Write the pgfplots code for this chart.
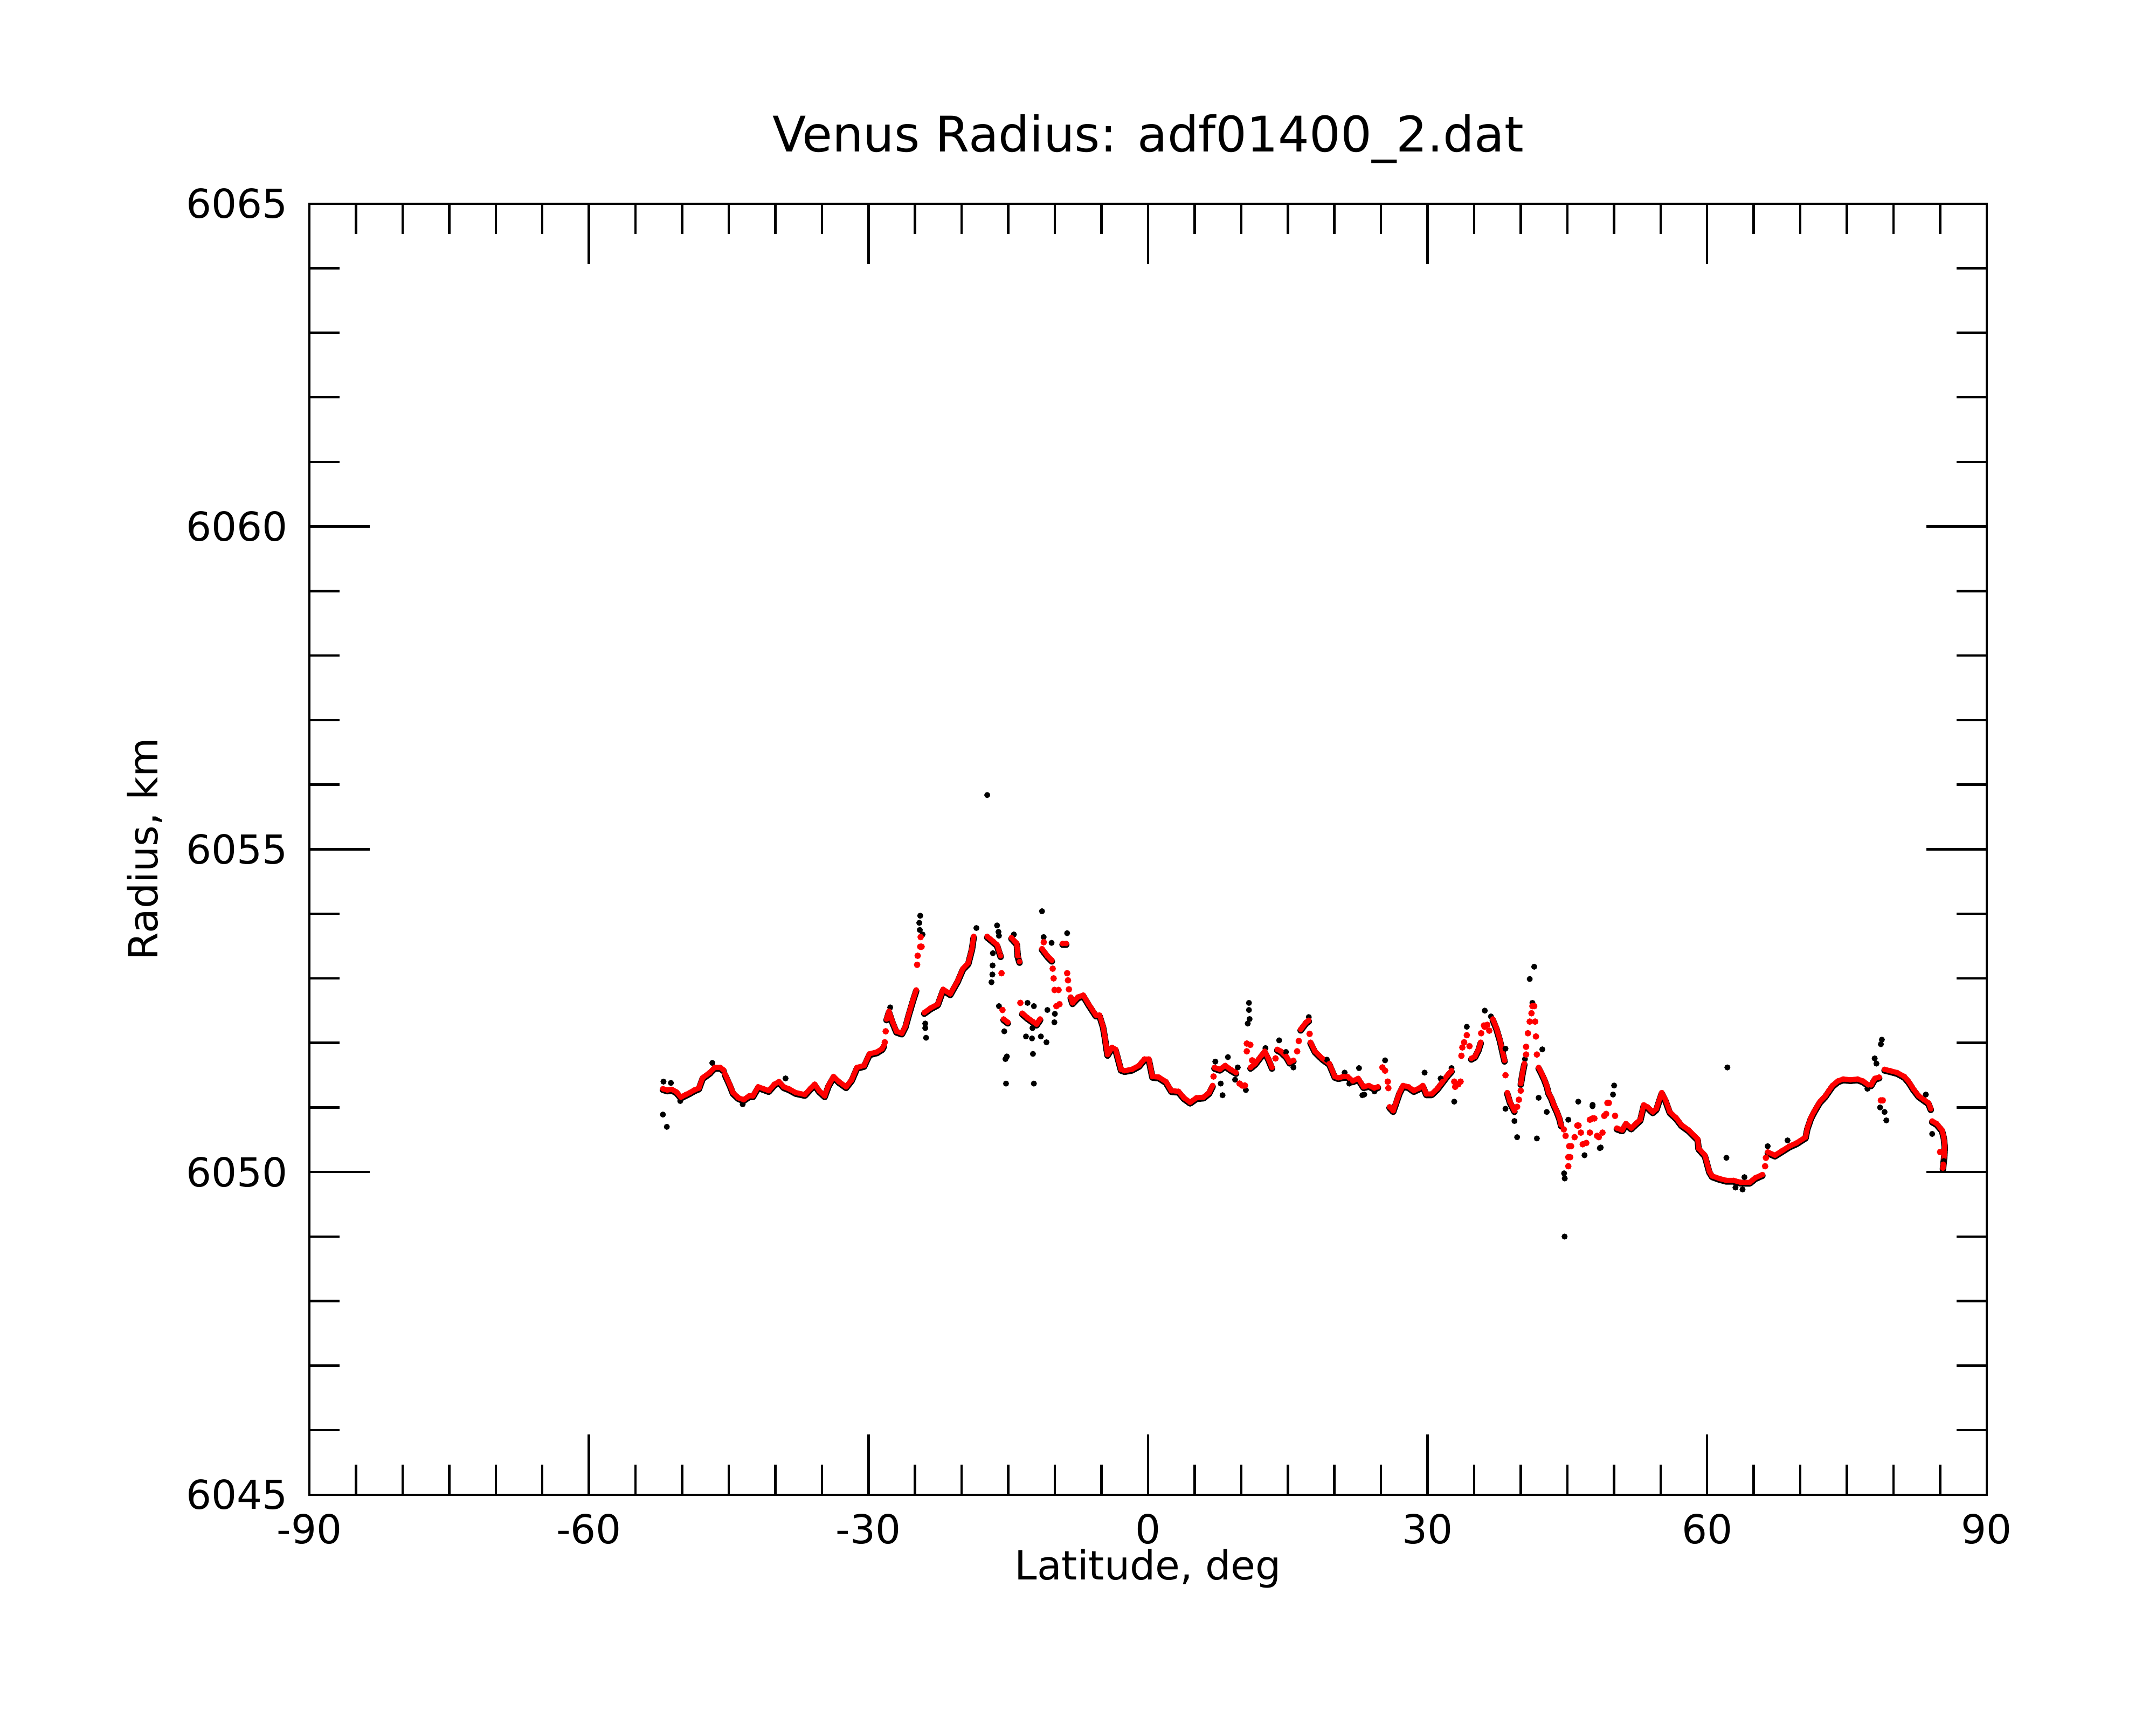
\documentclass[border=0pt]{standalone}
\usepackage{fontspec}
\setmainfont{DejaVu Sans}
\usepackage{pgfplots}
\pgfplotsset{compat=1.18}
\usepackage{pgfplotstable}

\pgfplotstableread{
lat r
-52.06 6051.29
-51.6 6051.27
-51.1 6051.28
-50.6 6051.24
-50.13 6051.16
-49.6 6051.20
-49.17 6051.23
-48.7 6051.27
-48.2 6051.30
-47.8 6051.46
-47.05 6051.54
-46.5 6051.62
-45.9 6051.62
-45.55 6051.58
nan nan
-45.4 6051.52
-44.93 6051.37
-44.54 6051.23
-43.96 6051.15
-43.4 6051.12
-42.8 6051.18
-42.4 6051.18
-41.84 6051.32
-41.26 6051.29
-40.7 6051.26
-40.1 6051.36
-39.6 6051.40
-39.1 6051.32
-38.56 6051.29
-37.8 6051.23
-36.83 6051.20
-36.25 6051.29
-35.77 6051.36
-35.3 6051.26
-34.7 6051.18
-34.3 6051.34
-33.75 6051.48
-33.17 6051.40
-32.4 6051.32
-31.8 6051.43
-31.24 6051.62
-30.47 6051.65
-29.9 6051.83
-29.1 6051.86
-28.54 6051.91
-28.35 6051.96
nan nan
-28.06 6052.37
-27.8 6052.49
-27.4 6052.32
-27.0 6052.18
-26.42 6052.15
-26.03 6052.26
-25.65 6052.46
-25.26 6052.65
-24.88 6052.82
nan nan
-24.01 6052.47
-23.34 6052.54
-22.57 6052.60
-21.99 6052.83
-21.22 6052.76
-20.44 6052.96
-19.87 6053.15
-19.29 6053.24
-18.9 6053.46
-18.71 6053.65
nan nan
-17.26 6053.65
-16.59 6053.57
-16.2 6053.52
-15.82 6053.35
nan nan
-14.66 6053.63
-14.08 6053.54
-13.98 6053.35
-13.79 6053.26
nan nan
-15.5 6052.37
-15.05 6052.32
nan nan
-13.5 6052.46
-12.93 6052.39
-12.35 6052.33
-11.96 6052.29
-11.58 6052.37
nan nan
-11.38 6053.46
-10.8 6053.35
-10.32 6053.28
nan nan
-9.17 6053.54
-8.78 6053.54
nan nan
-8.3 6052.71
-8.1 6052.62
-7.53 6052.71
-6.95 6052.74
-6.37 6052.60
-5.6 6052.43
-5.2 6052.43
-4.83 6052.26
-4.64 6052.10
-4.35 6051.82
-3.86 6051.93
-3.48 6051.90
-2.9 6051.59
-2.51 6051.57
-1.74 6051.59
-0.97 6051.65
-0.39 6051.75
0.09 6051.75
0.47 6051.48
1.15 6051.47
1.92 6051.40
2.5 6051.26
3.27 6051.25
3.85 6051.15
4.52 6051.08
5.2 6051.15
5.97 6051.16
6.55 6051.23
6.93 6051.34
nan nan
7.13 6051.62
7.7 6051.59
8.28 6051.65
8.86 6051.59
9.44 6051.54
nan nan
11.0 6051.62
11.5 6051.68
12.14 6051.80
12.52 6051.87
12.9 6051.76
13.3 6051.62
nan nan
13.87 6051.90
14.26 6051.87
14.84 6051.79
15.2 6051.70
15.6 6051.73
nan nan
16.38 6052.21
16.96 6052.32
17.25 6052.35
nan nan
17.44 6052.01
17.92 6051.87
18.7 6051.76
19.46 6051.68
20.04 6051.48
20.43 6051.46
21.0 6051.48
21.39 6051.48
21.97 6051.41
22.55 6051.45
23.13 6051.32
23.7 6051.34
24.28 6051.30
24.67 6051.32
nan nan
25.92 6051.01
26.31 6050.95
26.6 6051.07
26.98 6051.23
27.37 6051.34
27.95 6051.32
28.52 6051.26
29.1 6051.30
29.49 6051.34
29.87 6051.21
30.45 6051.21
31.03 6051.29
31.61 6051.40
32.19 6051.51
32.57 6051.57
nan nan
34.69 6051.76
35.08 6051.79
35.46 6051.90
35.7 6052.01
nan nan
37.0 6052.37
37.39 6052.23
37.78 6052.04
38.16 6051.79
38.26 6051.73
nan nan
38.55 6051.23
38.84 6051.09
39.32 6050.95
nan nan
40.0 6051.37
40.19 6051.54
40.38 6051.68
nan nan
41.92 6051.62
42.21 6051.54
42.5 6051.45
42.79 6051.34
42.98 6051.23
43.27 6051.15
43.56 6051.04
43.85 6050.95
44.14 6050.84
44.33 6050.73
nan nan
50.31 6050.68
50.89 6050.65
51.28 6050.75
51.85 6050.68
52.43 6050.76
52.82 6050.81
53.2 6051.04
53.59 6051.01
54.17 6050.93
54.55 6050.98
55.13 6051.23
55.52 6051.12
56.0 6050.93
56.67 6050.84
57.25 6050.73
58.02 6050.65
58.99 6050.51
59.08 6050.37
59.76 6050.26
60.24 6050.01
60.53 6049.94
61.3 6049.90
62.07 6049.87
62.84 6049.87
63.61 6049.84
64.58 6049.84
65.16 6049.91
65.93 6049.96
nan nan
66.51 6050.31
67.28 6050.26
68.05 6050.33
68.82 6050.40
69.59 6050.45
70.56 6050.54
70.75 6050.68
71.13 6050.84
71.52 6050.95
72.1 6051.09
72.68 6051.18
73.06 6051.26
73.45 6051.34
74.03 6051.41
74.6 6051.44
75.38 6051.43
76.15 6051.44
76.72 6051.41
77.3 6051.35
77.6 6051.35
78.0 6051.45
78.46 6051.47
nan nan
79.04 6051.59
79.62 6051.57
80.39 6051.54
81.16 6051.48
81.64 6051.40
82.12 6051.29
82.7 6051.18
83.28 6051.12
83.76 6051.07
84.0 6050.98
nan nan
84.15 6050.79
84.63 6050.75
85.21 6050.65
85.4 6050.54
85.5 6050.40
85.45 6050.26
85.35 6050.12
85.3 6050.06
}\redline

\pgfplotstableread{
lat r
-28.25 6052.01
-28.15 6052.18
-24.78 6053.21
-24.72 6053.35
-24.45 6053.49
-24.3 6053.49
-24.4 6053.64
-15.72 6053.08
-15.62 6052.51
-13.7 6052.62
-11.19 6053.56
-10.23 6053.15
-10.13 6053.00
-10.03 6052.82
-9.6 6052.82
-9.84 6052.57
-9.5 6052.60
-8.68 6053.08
-8.59 6052.97
-8.49 6052.83
7.03 6051.48
9.82 6051.37
10.1 6051.34
10.4 6051.34
10.6 6051.99
10.98 6051.97
10.6 6051.87
11.17 6051.73
13.68 6051.76
16.0 6051.87
16.18 6052.03
17.34 6052.14
25.15 6051.62
25.44 6051.57
25.73 6051.40
25.79 6051.30
32.86 6051.40
32.96 6051.32
33.3 6051.36
33.54 6051.40
33.63 6051.80
33.73 6051.93
33.92 6052.01
34.21 6052.12
34.5 6051.95
35.75 6052.15
36.05 6052.27
36.14 6052.25
36.4 6052.28
36.62 6052.19
38.36 6051.50
39.61 6051.01
39.8 6051.12
40.0 6051.26
40.57 6051.82
40.57 6051.94
40.77 6052.15
40.96 6052.33
41.15 6052.46
41.25 6052.57
41.44 6052.57
41.54 6052.33
41.63 6052.10
41.73 6051.82
44.62 6050.66
44.81 6050.56
45.2 6050.40
45.4 6050.40
45.1 6050.23
45.3 6050.23
45.1 6050.09
45.78 6050.54
46.07 6050.72
46.2 6050.72
46.45 6050.61
46.65 6050.43
47.03 6050.45
47.42 6050.61
47.42 6050.81
47.7 6050.83
47.9 6050.83
48.19 6050.56
48.38 6050.54
48.77 6050.61
48.96 6050.87
49.16 6050.90
49.3 6051.07
49.45 6051.07
50.12 6050.87
66.22 6050.09
66.31 6050.22
78.65 6051.11
78.85 6051.11
85.0 6050.31
}\reddots

\pgfplotstableread{
lat r
-52.06 6050.89
-51.64 6050.70
-52.0 6051.40
-51.2 6051.38
-50.2 6051.10
-46.76 6051.69
-43.5 6051.05
-38.9 6051.45
-27.67 6052.55
-24.49 6053.75
-24.55 6053.86
-24.45 6053.97
-24.2 6053.68
-23.91 6052.30
-23.91 6052.23
-23.82 6052.08
-18.42 6053.78
-17.26 6055.84
-16.2 6053.82
-16.05 6053.72
-16.65 6053.39
-16.68 6053.20
-16.7 6053.06
-16.8 6052.94
-16.0 6053.66
-15.8 6053.35
-16.0 6052.57
-15.43 6052.18
-15.15 6051.79
-15.3 6051.75
-15.24 6051.37
-14.4 6053.68
-13.9 6053.28
-12.93 6052.62
-12.25 6052.57
-13.1 6052.10
-12.45 6052.07
-11.5 6052.10
-10.9 6052.01
-12.35 6051.83
-12.25 6051.37
-10.8 6052.51
-11.38 6054.04
-11.2 6053.64
-10.35 6053.55
-10.05 6052.32
-10.0 6052.45
-8.68 6053.70
-12.4 6052.23
7.22 6051.71
7.8 6051.37
8.0 6051.19
8.57 6051.78
9.34 6051.43
9.63 6051.62
10.5 6051.27
10.7 6052.30
10.83 6052.62
10.83 6052.51
10.9 6052.37
12.6 6051.92
14.07 6052.04
14.8 6051.86
15.6 6051.62
17.25 6052.40
19.2 6051.74
21.1 6051.54
21.6 6051.37
22.64 6051.61
23.0 6051.19
23.2 6051.20
24.3 6051.25
25.44 6051.73
29.68 6051.54
31.4 6051.45
32.57 6051.61
32.86 6051.09
34.21 6052.25
36.14 6052.50
36.8 6052.41
38.36 6051.91
38.36 6050.98
39.32 6050.79
39.61 6050.54
40.45 6051.75
40.96 6052.99
41.44 6053.18
41.25 6052.62
41.73 6050.52
41.92 6051.15
42.31 6051.90
42.79 6050.93
44.65 6049.98
44.72 6049.90
44.70 6049.00
45.1 6050.81
46.17 6051.09
46.84 6050.26
47.71 6051.04
48.48 6050.37
47.7 6051.02
48.58 6050.38
49.9 6051.20
50.02 6051.34
62.17 6051.62
62.07 6050.22
63.04 6049.76
63.8 6049.73
64.0 6049.92
66.5 6050.40
68.63 6050.49
77.2 6051.29
77.98 6051.76
78.17 6051.68
78.65 6051.98
78.75 6052.05
78.56 6051.00
79.04 6050.93
79.23 6050.80
83.47 6051.20
84.15 6050.59
85.4 6050.17
}\blackpts

\begin{document}
\begin{tikzpicture}
\useasboundingbox (-57.4pt,-42.7pt) rectangle (342.6pt,277.3pt);
\begin{axis}[
  at={(0pt,0pt)}, anchor=south west,
  width=311.2pt, height=239.5pt, scale only axis,
  xmin=-90, xmax=90, ymin=6045, ymax=6065,
  xtick={-90,-60,...,90}, ytick={6045,6050,...,6065},
  minor x tick num=5, minor y tick num=4,
  tick align=inside,
  major tick length=11.2pt, minor tick length=5.6pt,
  every tick/.style={black, line width=0.45pt},
  axis line style={line width=0.4pt},
  /pgf/number format/assume math mode=true,
  /pgf/number format/1000 sep={},
  tick label style={font=\fontsize{7.4}{9}\selectfont},
  yticklabel style={xshift=-0.5pt},
  label style={font=\fontsize{7.45}{9}\selectfont},
  every axis title shift=0pt,
  title={Venus Radius: adf01400\_2.dat},
  title style={font=\fontsize{9.1}{11}\selectfont, at={(axis description cs:0.5,1.0401)}, anchor=base},
  xlabel={Latitude, deg},
  xlabel style={at={(axis description cs:0.5,-0.066)}, anchor=base},
  ylabel={Radius, km},
  ylabel style={at={(axis description cs:-0.0983,0.5)}, anchor=center},
  unbounded coords=jump,
]
\addplot[black, line width=1.2pt, line join=round, line cap=round, yshift=-0.2pt] table[x=lat,y=r]{\redline};
\addplot[only marks, black, mark=*, mark size=0.45pt, mark options={line width=0.2pt}] table[x=lat,y=r]{\blackpts};
\addplot[red, line width=0.95pt, line join=round, line cap=round, mark=*, mark size=0.42pt, mark options={solid, line width=0.2pt, fill=red}] table[x=lat,y=r]{\redline};
\addplot[only marks, red, mark=*, mark size=0.5pt, mark options={line width=0.2pt, fill=red}] table[x=lat,y=r]{\reddots};
\end{axis}
\end{tikzpicture}
\end{document}
